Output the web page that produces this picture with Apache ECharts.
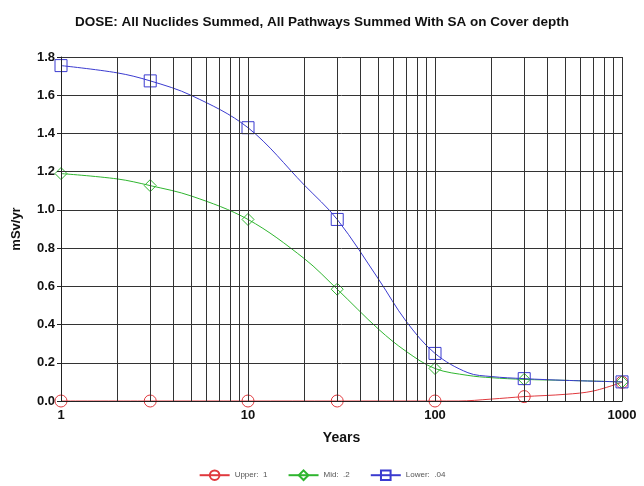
<!DOCTYPE html>
<html>
<head>
<meta charset="utf-8">
<script src="https://cdn.jsdelivr.net/npm/echarts@6/dist/echarts.min.js"></script>
<style>
  html, body { margin: 0; padding: 0; background: #fff; }
  #main { width: 644px; height: 486px; }
</style>
</head>
<body>
<div id="main"></div>
<script>
// values
var markerYears = [1, 3, 10, 30, 100, 300, 1000];
var upperYears = [1, 3, 10, 30, 100, 133, 200, 300, 500, 700, 1000];
var upperDose = [0, 0, 0, 0, 0, 0, 0.01, 0.023, 0.035, 0.052, 0.098];
var midYears = [1, 2, 3, 5, 10, 20, 30, 50, 70, 100, 150, 200, 300, 500, 1000];
var midDose = [1.19, 1.162, 1.127, 1.072, 0.95, 0.745, 0.585, 0.375, 0.26, 0.17, 0.134, 0.122, 0.113, 0.108, 0.10];
var lowerYears = [1, 2, 3, 5, 10, 20, 30, 50, 70, 100, 150, 200, 300, 500, 1000];
var lowerDose = [1.755, 1.717, 1.675, 1.598, 1.43, 1.13, 0.95, 0.636, 0.418, 0.249, 0.148, 0.128, 0.117, 0.108, 0.10];
var minorGrid = [2, 3, 4, 5, 6, 7, 8, 9, 20, 30, 40, 50, 60, 70, 80, 90, 200, 300, 400, 500, 600, 700, 800, 900];

var chart = echarts.init(document.getElementById('main'));

function build(xs, ys, shape) {
  return xs.map(function (x, i) {
    return {
      value: [x, ys[i]],
      symbol: markerYears.indexOf(x) >= 0 ? shape : 'none'
    };
  });
}

function makeSeries(name, xs, ys, shape, color) {
  return {
    name: name,
    type: 'line',
    smooth: 0.35,
    showAllSymbol: true,
    symbol: shape,
    symbolSize: 12,
    data: build(xs, ys, shape),
    lineStyle: { color: color, width: 1 },
    itemStyle: { color: 'rgba(0,0,0,0)', borderColor: color, borderWidth: 1 },
    emphasis: { disabled: true }
  };
}

var series = [
  makeSeries('Upper:  1', upperYears, upperDose, 'circle', '#e0393e'),
  makeSeries('Mid:  .2', midYears, midDose, 'diamond', '#2fb52f'),
  makeSeries('Lower:  .04', lowerYears, lowerDose, 'rect', '#3b3bd0')
];
// minor vertical grid lines at 2..9 of each decade
series[0].markLine = {
  silent: true,
  symbol: 'none',
  label: { show: false },
  lineStyle: { color: '#333', width: 1, type: 'solid' },
  data: minorGrid.map(function (v) { return { xAxis: v }; })
};

chart.setOption({
  animation: false,
  title: {
    text: 'DOSE: All Nuclides Summed, All Pathways Summed With SA on Cover depth',
    left: 'center',
    top: 10,
    textStyle: { fontFamily: 'Liberation Sans', fontSize: 13.5, fontWeight: 'bold', color: '#111' }
  },
  legend: {
    bottom: 0,
    left: 'center',
    itemGap: 20,
    itemWidth: 30,
    itemHeight: 12,
    textStyle: { fontFamily: 'Liberation Sans', fontSize: 8, color: '#555' },
    data: ['Upper:  1', 'Mid:  .2', 'Lower:  .04']
  },
  grid: { left: 61, right: 22, top: 57, bottom: 85 },
  xAxis: {
    type: 'log',
    logBase: 10,
    min: 1,
    max: 1000,
    name: 'Years',
    nameLocation: 'middle',
    nameGap: 30,
    nameTextStyle: { fontFamily: 'Liberation Sans', fontSize: 14, fontWeight: 'bold', color: '#111' },
    z: 5,
    axisLine: { lineStyle: { color: '#222', width: 1 } },
    axisTick: { show: false },
    axisLabel: {
      fontFamily: 'Liberation Sans', fontSize: 13, fontWeight: 'bold', color: '#111', margin: 8,
      formatter: function (v) { return String(Math.round(v)); }
    },
    splitLine: { show: true, lineStyle: { color: '#333', width: 1 } }
  },
  yAxis: {
    type: 'value',
    min: 0,
    max: 1.8,
    interval: 0.2,
    name: 'mSv/yr',
    nameLocation: 'middle',
    nameGap: 38,
    nameTextStyle: { fontFamily: 'Liberation Sans', fontSize: 13, fontWeight: 'bold', color: '#111' },
    z: 5,
    axisLine: { show: true, lineStyle: { color: '#222', width: 1 } },
    axisTick: { show: true, length: 4, lineStyle: { color: '#222' } },
    axisLabel: {
      fontFamily: 'Liberation Sans', fontSize: 13, fontWeight: 'bold', color: '#111', margin: 6,
      formatter: function (v) { return v.toFixed(1); }
    },
    splitLine: { show: true, lineStyle: { color: '#333', width: 1 } }
  },
  series: series
});
</script>
</body>
</html>
